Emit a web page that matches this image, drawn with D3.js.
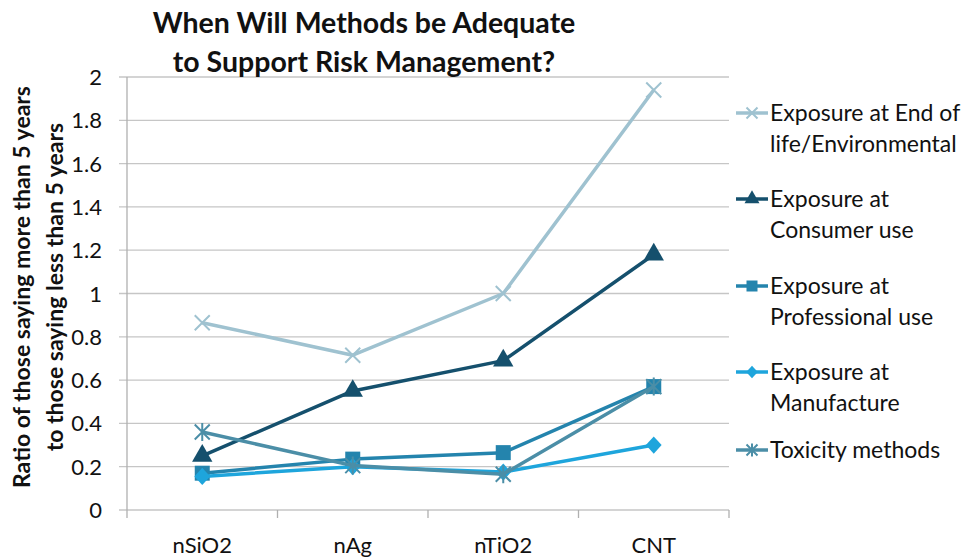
<!DOCTYPE html>
<html>
<head>
<meta charset="utf-8">
<style>
  body { margin: 0; background: #fff; }
  svg { font-family: Lato, 'Open Sans', sans-serif; }
</style>
</head>
<body>
<svg width="969" height="558"></svg>
<script src="https://d3js.org/d3.v7.min.js"></script>
<script>
// data
const categories = ["nSiO2", "nAg", "nTiO2", "CNT"];
const seriesNames = ["Exposure at End of life/Environmental", "Exposure at Consumer use",
  "Exposure at Professional use", "Exposure at Manufacture", "Toxicity methods"];
const endOfLife = [0.865, 0.715, 1.0, 1.94];
const consumer = [0.25, 0.55, 0.69, 1.18];
const professional = [0.17, 0.235, 0.265, 0.57];
const manufacture = [0.155, 0.2, 0.175, 0.3];
const toxicity = [0.36, 0.205, 0.165, 0.57];
const yTicks = [0, 0.2, 0.4, 0.6, 0.8, 1, 1.2, 1.4, 1.6, 1.8, 2];
const legendLines = [["Exposure at End of", "life/Environmental"], ["Exposure at", "Consumer use"],
  ["Exposure at", "Professional use"], ["Exposure at", "Manufacture"], ["Toxicity methods"]];

const series = [
  { name: seriesNames[0], values: endOfLife, color: "#9fc2d0", marker: "x" },
  { name: seriesNames[1], values: consumer, color: "#15506d", marker: "triangle" },
  { name: seriesNames[2], values: professional, color: "#2484ad", marker: "square" },
  { name: seriesNames[3], values: manufacture, color: "#1ea5dc", marker: "diamond" },
  { name: seriesNames[4], values: toxicity, color: "#4b8ea7", marker: "star" }
];

const svg = d3.select("svg");
const plotLeft = 127, plotRight = 729, plotTop = 77, plotBottom = 510;

const x = d3.scaleBand().domain(categories).range([plotLeft, plotRight]);
const y = d3.scaleLinear().domain([0, 2]).range([plotBottom, plotTop]);

// grid lines
svg.append("g").selectAll("line").data(yTicks).join("line")
  .attr("x1", plotLeft - 8).attr("x2", plotRight)
  .attr("y1", d => y(d)).attr("y2", d => y(d))
  .style("stroke", "#c6c6c6").style("stroke-width", 1.3);

// y axis line
svg.append("line").attr("x1", plotLeft).attr("x2", plotLeft).attr("y1", plotTop).attr("y2", plotBottom)
  .style("stroke", "#b0b0b0").style("stroke-width", 1.3);

// x axis ticks at band edges
let edges = categories.map(c => x(c)).concat([plotRight]);
svg.append("g").selectAll("line").data(edges).join("line")
  .attr("x1", d => d).attr("x2", d => d).attr("y1", plotBottom).attr("y2", plotBottom + 8)
  .style("stroke", "#b0b0b0").style("stroke-width", 1.3);

// y tick labels
svg.append("g").selectAll("text").data(yTicks).join("text")
  .attr("x", 102).attr("y", d => y(d) + 8)
  .attr("text-anchor", "end")
  .style("font-size", "22px").style("fill", "#111")
  .text(d => d);

// x labels
svg.append("g").selectAll("text").data(categories).join("text")
  .attr("x", d => x(d) + x.bandwidth() / 2).attr("y", 553)
  .attr("text-anchor", "middle")
  .style("font-size", "22px").style("fill", "#111")
  .text(d => d);

// title
let title = svg.append("text").attr("text-anchor", "middle")
  .style("font-size", "28.5px").style("font-weight", "bold").style("fill", "#111");
title.append("tspan").attr("x", 364).attr("y", 33).text("When Will Methods be Adequate");
title.append("tspan").attr("x", 364).attr("y", 72).text("to Support Risk Management?");

// y axis title
let yt = svg.append("text").attr("text-anchor", "middle")
  .attr("transform", "translate(0,287) rotate(-90)")
  .style("font-size", "23px").style("font-weight", "bold").style("fill", "#111");
yt.append("tspan").attr("x", 0).attr("y", 30).text("Ratio of those saying more than 5 years");
yt.append("tspan").attr("x", 0).attr("y", 63).text("to those saying less than 5 years");

function drawMarker(g, type, color, s) {
  if (type === "x") {
    g.append("path").attr("d", `M${-s},${-s}L${s},${s}M${-s},${s}L${s},${-s}`)
      .style("stroke", color).style("stroke-width", 2).style("fill", "none");
  } else if (type === "triangle") {
    g.append("path").attr("d", d3.symbol(d3.symbolTriangle, s * s * 3.2)())
      .style("fill", color);
  } else if (type === "square") {
    g.append("rect").attr("x", -s).attr("y", -s).attr("width", 2 * s).attr("height", 2 * s)
      .style("fill", color);
  } else if (type === "diamond") {
    g.append("path").attr("d", `M0,${-s * 1.15}L${s * 1.05},0L0,${s * 1.15}L${-s * 1.05},0Z`)
      .style("fill", color);
  } else if (type === "star") {
    g.append("path").attr("d", `M${-s},${-s}L${s},${s}M${-s},${s}L${s},${-s}M0,${-s * 1.2}L0,${s * 1.2}`)
      .style("stroke", color).style("stroke-width", 2).style("fill", "none");
  }
}

const line = d3.line().x((d, i) => x(categories[i]) + x.bandwidth() / 2).y(d => y(d));

series.forEach(s => {
  let g = svg.append("g");
  g.append("path").attr("d", line(s.values))
    .style("fill", "none").style("stroke", s.color).style("stroke-width", 3.5)
    .style("stroke-linejoin", "round");
  s.values.forEach((v, i) => {
    let m = g.append("g").attr("transform", `translate(${x(categories[i]) + x.bandwidth() / 2},${y(v)})`);
    drawMarker(m, s.marker, s.color, 7.5);
  });
});

// legend
const legendY = [113, 199, 286, 372, 450];
series.forEach((s, i) => {
  let g = svg.append("g").attr("transform", `translate(0,${legendY[i]})`);
  g.append("line").attr("x1", 736).attr("x2", 768).attr("y1", 0).attr("y2", 0)
    .style("stroke", s.color).style("stroke-width", 3.5);
  let m = g.append("g").attr("transform", "translate(752,0)");
  drawMarker(m, s.marker, s.color, 5.5);
  let t = g.append("text").style("font-size", "23px").style("fill", "#111");
  legendLines[i].forEach((l, j) => {
    t.append("tspan").attr("x", 770).attr("y", 8 + j * 31).text(l);
  });
});
</script>
</body>
</html>
